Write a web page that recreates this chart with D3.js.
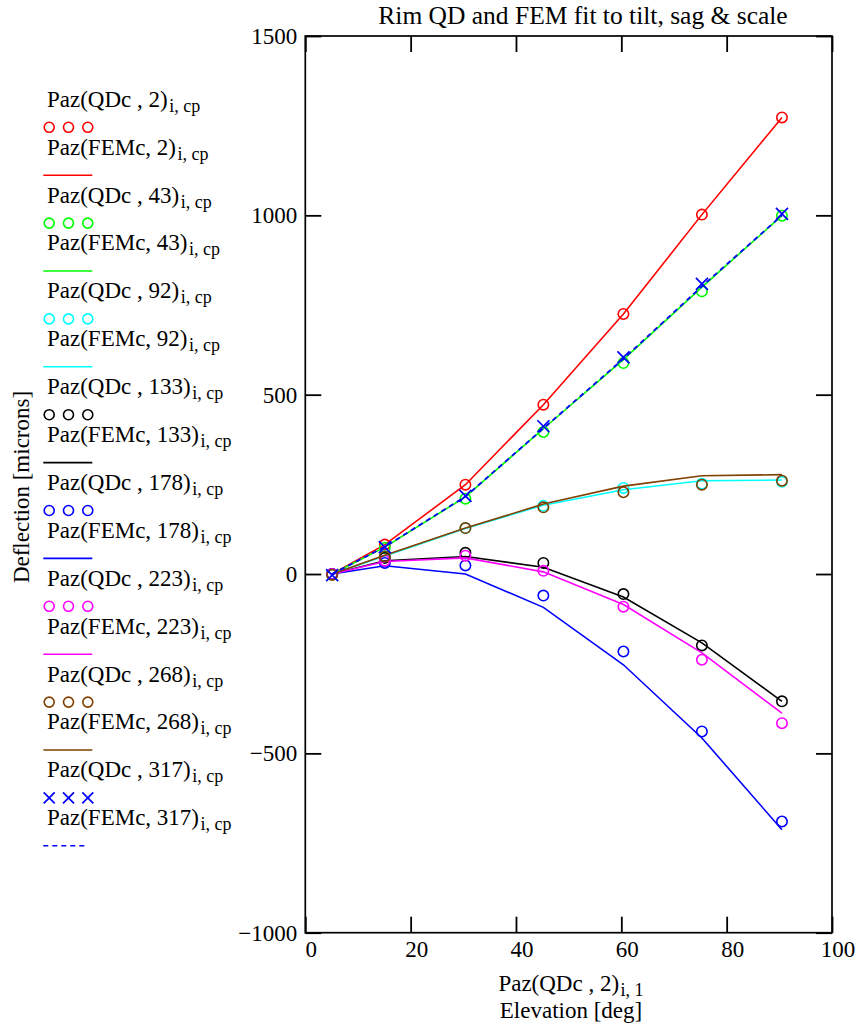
<!DOCTYPE html>
<html>
<head>
<meta charset="utf-8">
<script src="https://cdn.jsdelivr.net/npm/d3@7"></script>
<style>
  html, body { margin: 0; padding: 0; background: #fff; }
  svg { display: block; font-family: "Liberation Serif", "Times New Roman", serif; }
</style>
</head>
<body>
<svg id="chart" width="858" height="1028"></svg>
<script>
// Elevation angles of the measurement points [deg]
const elevation = [5.1, 15.1, 30.4, 45.2, 60.4, 75.3, 90.5];

// Rim points (azimuth index) shown in the plot
const rimPoints = [2, 43, 92, 133, 178, 223, 268, 317];

// Quadratic-fit (QD) deflections [microns]
const qd2   = [-2, 82, 249, 472, 725, 1002, 1273];
const qd43  = [-2, 73, 210, 396, 588, 788, 999];
const qd92  = [0, 50, 128, 190, 240, 252, 257];
const qd133 = [0, 45, 59, 31, -56, -199, -355];
const qd178 = [0, 31, 24, -60, -216, -439, -690];
const qd223 = [0, 37, 51, 9, -91, -239, -416];
const qd268 = [-2, 49, 128, 186, 228, 249, 260];
const qd317 = [-3, 75, 218, 412, 604, 809, 1004];

// FEM deflections [microns]
const fem2   = [0, 82, 249, 472, 725, 1002, 1273];
const fem43  = [0, 75, 215, 405, 598, 800, 999];
const fem92  = [0, 50, 127, 192, 235, 260, 262];
const fem133 = [0, 37, 49, 19, -64, -192, -355];
const fem178 = [0, 23, 0, -93, -253, -457, -713];
const fem223 = [0, 35, 45, 6, -85, -220, -388];
const fem268 = [0, 52, 128, 195, 245, 274, 277];
const fem317 = [0, 76, 216, 406, 600, 802, 1000];

const qdSeries  = [qd2, qd43, qd92, qd133, qd178, qd223, qd268, qd317];
const femSeries = [fem2, fem43, fem92, fem133, fem178, fem223, fem268, fem317];

// Axis ticks
const xTicks = [0, 20, 40, 60, 80, 100];
const yTicks = [-1000, -500, 0, 500, 1000, 1500];

// Trace styles
const colors = ["#ff0000", "#00ff00", "#00ffff", "#000000", "#0000ff", "#ff00ff", "#804000", "#0000ff"];
const markerKind = ["o", "o", "o", "o", "o", "o", "o", "x"];
const lineDash = [null, null, null, null, null, null, null, "5,4"];

const svg = d3.select("#chart");
svg.append("rect").attr("width", 858).attr("height", 1028).attr("fill", "#fff");

const L = 305.3, R = 832, T = 36, B = 932.7;
const x = d3.scaleLinear().domain([0, 100]).range([L, R]);
const y = d3.scaleLinear().domain([-1000, 1500]).range([B, T]);

const fontSize = 23;
const subSize = 18;

// Axes: ticks pointing inward on all four sides, labels on bottom and left
const gBottom = svg.append("g").attr("transform", `translate(0,${B})`)
  .call(d3.axisBottom(x).tickValues(xTicks).tickSize(-16).tickPadding(8.3).tickFormat(d3.format("d")));
const gLeft = svg.append("g").attr("transform", `translate(${L},0)`)
  .call(d3.axisLeft(y).tickValues(yTicks).tickSize(-16).tickPadding(8).tickFormat(d3.format("d")));
const gTop = svg.append("g").attr("transform", `translate(0,${T})`)
  .call(d3.axisTop(x).tickValues(xTicks).tickSize(-16).tickFormat(""));
const gRight = svg.append("g").attr("transform", `translate(${R},0)`)
  .call(d3.axisRight(y).tickValues(yTicks).tickSize(-16).tickFormat(""));

[gBottom, gLeft, gTop, gRight].forEach(g => {
  g.attr("font-family", null).attr("font-size", null);
  g.select(".domain").remove();
  g.selectAll(".tick line").attr("stroke", "#000").attr("stroke-width", 1.8);
  g.selectAll(".tick text")
    .attr("fill", "#000")
    .style("font-family", "'Liberation Serif', 'Times New Roman', serif")
    .style("font-size", fontSize + "px");
});
gBottom.selectAll(".tick text").attr("dx", 5.5);

// Plot frame
svg.append("rect")
  .attr("x", L).attr("y", T).attr("width", R - L).attr("height", B - T)
  .attr("fill", "none").attr("stroke", "#000").attr("stroke-width", 1.7);

// Data traces in legend order
const plot = svg.append("g");
const line = d3.line().x((d, i) => x(elevation[i])).y(d => y(d));

function drawMarkers(g, values, kind, color, r) {
  values.forEach((v, i) => {
    const cx = x(elevation[i]), cy = y(v);
    if (kind === "o") {
      g.append("circle").attr("cx", cx).attr("cy", cy).attr("r", r)
        .attr("fill", "none").attr("stroke", color).attr("stroke-width", 1.6);
    } else {
      const s = r + 0.8;
      g.append("path")
        .attr("d", `M${cx - s},${cy - s}L${cx + s},${cy + s}M${cx - s},${cy + s}L${cx + s},${cy - s}`)
        .attr("fill", "none").attr("stroke", color).attr("stroke-width", 1.7);
    }
  });
}

rimPoints.forEach((p, k) => {
  drawMarkers(plot, qdSeries[k], markerKind[k], colors[k], 5.2);
  const path = plot.append("path").datum(femSeries[k])
    .attr("d", line)
    .attr("fill", "none").attr("stroke", colors[k]).attr("stroke-width", 1.6);
  if (lineDash[k]) path.attr("stroke-dasharray", lineDash[k]).attr("stroke-width", 1.8);
});

// Legend
const legend = svg.append("g").style("font-size", fontSize + "px");
const row0 = 106.7, stride = 47.9, symOffset = 20.6;

function labelText(g, main, sub, xPos, yPos, anchor) {
  const t = g.append("text").attr("x", xPos).attr("y", yPos).attr("fill", "#000");
  if (anchor) t.attr("text-anchor", anchor);
  t.append("tspan").text(main);
  t.append("tspan").attr("dx", 1.5).attr("dy", 5).style("font-size", subSize + "px").text(sub);
  return t;
}

rimPoints.forEach((p, k) => {
  const yQd = row0 + stride * (2 * k);
  const yFem = row0 + stride * (2 * k + 1);
  labelText(legend, `Paz(QDc , ${p})`, "i, cp", 47, yQd);
  labelText(legend, `Paz(FEMc, ${p})`, "i, cp", 47, yFem);

  const sy = yQd + symOffset;
  [49.2, 68.5, 87.8].forEach(cx => {
    if (markerKind[k] === "o") {
      legend.append("circle").attr("cx", cx).attr("cy", sy).attr("r", 5)
        .attr("fill", "none").attr("stroke", colors[k]).attr("stroke-width", 1.6);
    } else {
      const s = 5.5;
      legend.append("path")
        .attr("d", `M${cx - s},${sy - s}L${cx + s},${sy + s}M${cx - s},${sy + s}L${cx + s},${sy - s}`)
        .attr("fill", "none").attr("stroke", colors[k]).attr("stroke-width", 1.7);
    }
  });

  const ly = yFem + symOffset;
  const seg = legend.append("line")
    .attr("x1", 43.3).attr("x2", lineDash[k] ? 87 : 92.3)
    .attr("y1", ly).attr("y2", ly)
    .attr("stroke", colors[k]).attr("stroke-width", 1.6);
  if (lineDash[k]) seg.attr("stroke-dasharray", lineDash[k]);
});

// Titles
svg.append("text")
  .attr("x", 378.3).attr("y", 24)
  .style("font-size", "25.5px").attr("fill", "#000")
  .text("Rim QD and FEM fit to tilt, sag & scale");

svg.append("text")
  .attr("transform", "rotate(-90)")
  .attr("x", -487).attr("y", 28.5)
  .attr("text-anchor", "middle")
  .style("font-size", fontSize + "px").attr("fill", "#000")
  .text("Deflection [microns]");

const xt = svg.append("g").style("font-size", fontSize + "px");
labelText(xt, "Paz(QDc , 2)", "i, 1", 571, 991, "middle");
xt.append("text").attr("x", 571).attr("y", 1018).attr("text-anchor", "middle")
  .attr("fill", "#000").text("Elevation [deg]");
</script>
</body>
</html>
